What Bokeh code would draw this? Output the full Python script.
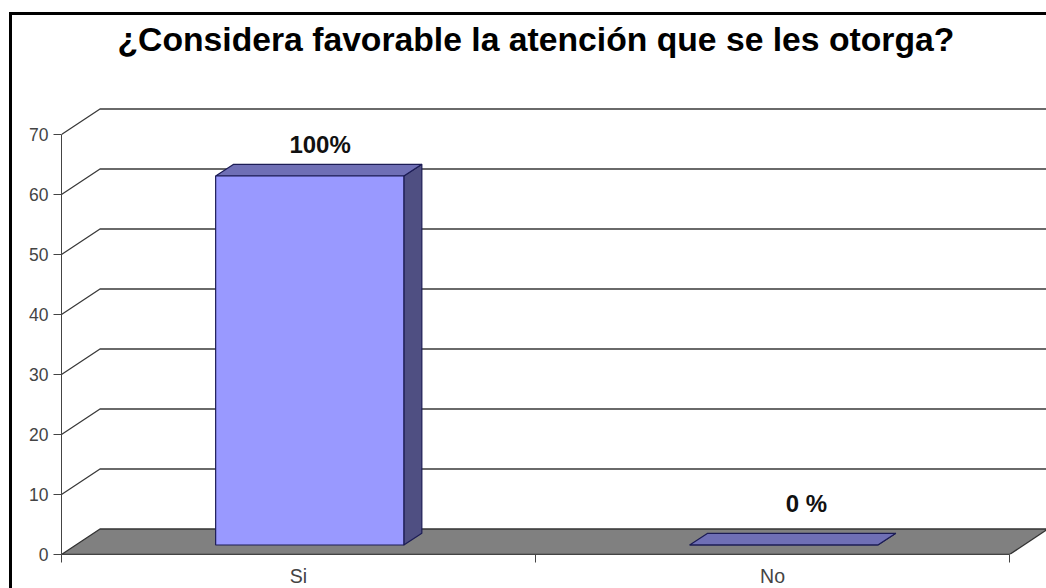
from bokeh.embed import file_html
from bokeh.models import ColumnDataSource, FixedTicker, InlineStyleSheet, Range1d
from bokeh.plotting import figure
from bokeh.resources import INLINE

TITLE = "¿Considera favorable la atención que se les otorga?"
categories = ["Si", "No"]
counts = [61.5, 0]
share_labels = ["100%", "0 %"]
y_ticks = [0, 10, 20, 30, 40, 50, 60, 70]

# Oblique projection: how far the back wall and each bar's depth shift a point.
WALL_DX, WALL_DY = 0.0812, 4.25
BAR_DX, BAR_DY = 0.038, 1.95
BAR_BASE_DY = 1.58
BAR_OFFSET, BAR_WIDTH = 0.0237, 0.397
X_END, Y_END = 2.078, 82.33

INK = "#444444"
NAVY = "#1c1c55"

p = figure(
    frame_width=985, frame_height=494,
    min_border_left=61, min_border_right=0, min_border_bottom=34, min_border_top=60,
    x_range=Range1d(0, X_END), y_range=Range1d(0, Y_END),
    output_backend="svg", toolbar_location=None, tools="",
    background_fill_color="white", border_fill_color="white",
)
p.outline_line_color = None
p.grid.visible = False

p.title.text = TITLE
p.title.align = "left"
p.title.offset = 56
p.title.standoff = 5
p.title.text_font = "Liberation Sans"
p.title.text_font_style = "bold"
p.title.text_font_size = "33.7px"
p.title.text_color = "black"

# Value axis
p.yaxis.ticker = FixedTicker(ticks=y_ticks)
p.yaxis.bounds = (0, 70)
p.yaxis.axis_line_color = INK
p.yaxis.major_tick_line_color = INK
p.yaxis.major_tick_in = 0
p.yaxis.major_tick_out = 8
p.yaxis.minor_tick_line_color = None
p.yaxis.major_label_text_font = "Liberation Sans"
p.yaxis.major_label_text_font_size = "17.5px"
p.yaxis.major_label_text_color = INK
p.yaxis.major_label_standoff = 5

# Category axis: labels sit mid-slot, tick marks fall on the slot boundaries
slot_centres = [i + 0.5 for i in range(len(categories))]
p.xaxis.ticker = FixedTicker(ticks=slot_centres, minor_ticks=list(range(len(categories) + 1)))
p.xaxis.major_label_overrides = dict(zip(slot_centres, categories))
p.xaxis.bounds = (0, len(categories))
p.xaxis.axis_line_color = INK
p.xaxis.major_tick_line_color = None
p.xaxis.major_tick_in = 0
p.xaxis.major_tick_out = 0
p.xaxis.minor_tick_line_color = INK
p.xaxis.minor_tick_in = 0
p.xaxis.minor_tick_out = 8
p.xaxis.major_label_standoff = 2
p.xaxis.major_label_text_font = "Liberation Sans"
p.xaxis.major_label_text_font_size = "19.5px"
p.xaxis.major_label_text_color = INK

# Back wall: one horizontal rule per tick plus its slanted return to the axis
n_slots = len(categories)
wall_xs = [[0, WALL_DX, X_END + 0.1] for _ in y_ticks[1:]]
wall_ys = [[t, t + WALL_DY, t + WALL_DY] for t in y_ticks[1:]]
p.multi_line(wall_xs, wall_ys, line_color="#3a3a3a", line_width=1.3)

# Floor
p.patch(
    [0, n_slots, n_slots + WALL_DX, WALL_DX],
    [0, 0, WALL_DY, WALL_DY],
    fill_color="#808080", line_color="#333333", line_width=1.3,
)

# Bars: side, top and front faces
lefts = [i + 0.5 + BAR_OFFSET - BAR_WIDTH / 2 for i in range(n_slots)]
rights = [l + BAR_WIDTH for l in lefts]
base = BAR_BASE_DY
tops = [base + c for c in counts]

p.patches(
    [[r, r + BAR_DX, r + BAR_DX, r] for r in rights],
    [[base, base + BAR_DY, t + BAR_DY, t] for t in tops],
    fill_color="#4f4f82", line_color=NAVY, line_width=1.2,
)
p.patches(
    [[l, r, r + BAR_DX, l + BAR_DX] for l, r in zip(lefts, rights)],
    [[t, t, t + BAR_DY, t + BAR_DY] for t in tops],
    fill_color="#6f6fb5", line_color=NAVY, line_width=1.2,
)
p.quad(
    left=lefts, right=rights, bottom=[base] * n_slots, top=tops,
    fill_color="#9999ff", line_color=NAVY, line_width=1.2,
)

# Share labels above each bar
labels = ColumnDataSource(dict(
    x=[0.5 + 0.0455, 1.5 + 0.0717],
    y=[tops[0] + 5.3, tops[1] + 6.9],
    text=share_labels,
))
p.text(
    "x", "y", text="text", source=labels,
    text_align="center", text_baseline="middle",
    text_font={"value": "Liberation Sans"}, text_font_style="bold",
    text_font_size={"value": "24px"}, text_color="#111111",
)

# Black sheet frame along the top and left of the page
p.stylesheets = [InlineStyleSheet(css="""
:host::after {
  content: ""; position: absolute; left: 9px; top: 12px; right: 0; bottom: 0;
  border-left: 3px solid black; border-top: 3px solid black; pointer-events: none;
}
""")]

open("out.html", "w").write(file_html(p, INLINE))
